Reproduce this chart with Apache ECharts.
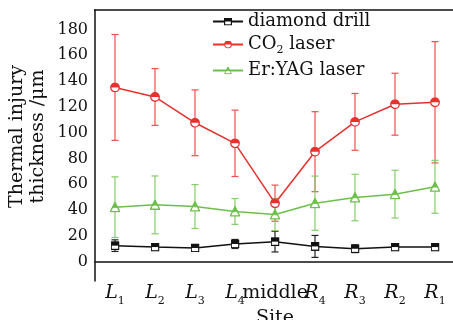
<!DOCTYPE html>
<html>
<head>
<meta charset="utf-8">
<script src="https://cdn.jsdelivr.net/npm/echarts@6/dist/echarts.min.js"></script>
<style>
  html, body { margin: 0; padding: 0; background: #fff; }
  #chart { width: 453px; height: 320px; }
</style>
</head>
<body>
<div id="chart"></div>
<script>
// sites along the bone cut
const sites = ['L1', 'L2', 'L3', 'L4', 'middle', 'R4', 'R3', 'R2', 'R1'];

const drillMean = [12.4, 11.3, 10.6, 13.7, 15.5, 11.8, 10.0, 11.3, 11.3];
const drillErr = [4.5, 2.5, 2.5, 3.5, 8.0, 8.5, 3.0, 2.5, 2.5];

const co2Mean = [135, 127.6, 107.6, 91.7, 45.3, 85.2, 108.3, 122, 123.5];
const co2Err = [41, 22, 25.5, 25.7, 14, 31, 22, 24, 47];

const yagMean = [42.2, 44, 42.7, 38.9, 36.5, 45.3, 49.7, 52.3, 58];
const yagErr = [23.5, 22.4, 17, 10, 12.5, 21, 18, 18.5, 20.5];

const yTicks = [0, 20, 40, 60, 80, 100, 120, 140, 160, 180];

const FONT = 'DejaVu Serif';

// half filled markers (top coloured, bottom white) as small svg images
function svgSymbol(shape, c) {
  let body = '';
  if (shape === 'rect') {
    body = "<rect x='1.5' y='1.5' width='17' height='17' fill='#fff' stroke='" + c + "' stroke-width='3'/>" +
      "<rect x='1.5' y='1.5' width='17' height='8.5' fill='" + c + "'/>";
  } else if (shape === 'circle') {
    body = "<circle cx='10' cy='10' r='8.5' fill='#fff' stroke='" + c + "' stroke-width='2.6'/>" +
      "<path d='M1.5,10 A8.5,8.5 0 0 1 18.5,10 Z' fill='" + c + "'/>";
  } else {
    body = "<polygon points='10,1.5 18.5,18 1.5,18' fill='#fff' stroke='" + c + "' stroke-width='2.4' stroke-linejoin='round'/>" +
      "<polygon points='10,1.5 14.5,10.5 5.5,10.5' fill='" + c + "' stroke='" + c + "' stroke-width='1.5'/>";
  }
  const svg = "<svg xmlns='http://www.w3.org/2000/svg' width='20' height='20' viewBox='0 0 20 20'>" + body + '</svg>';
  return 'image://data:image/svg+xml;charset=utf-8,' + encodeURIComponent(svg);
}

function lineSeries(name, data, color, shape, size) {
  return {
    name: name,
    type: 'line',
    data: data,
    symbol: svgSymbol(shape, color),
    symbolSize: size,
    z: 5,
    color: color,
    lineStyle: { color: color, width: 1.5 },
    itemStyle: { color: color },
  };
}

function errorSeries(mean, err, color) {
  return {
    type: 'custom',
    z: 2,
    silent: true,
    data: mean.map((m, i) => [i, m - err[i], m + err[i]]),
    renderItem(params, api) {
      const lo = api.coord([api.value(0), api.value(1)]);
      const hi = api.coord([api.value(0), api.value(2)]);
      const w = 3.5;
      const style = { stroke: color, lineWidth: 1.2 };
      return {
        type: 'group',
        children: [
          { type: 'line', shape: { x1: lo[0], y1: lo[1], x2: hi[0], y2: hi[1] }, style: style },
          { type: 'line', shape: { x1: lo[0] - w, y1: lo[1], x2: lo[0] + w, y2: lo[1] }, style: style },
          { type: 'line', shape: { x1: hi[0] - w, y1: hi[1], x2: hi[0] + w, y2: hi[1] }, style: style },
        ],
      };
    },
  };
}

const chart = echarts.init(document.getElementById('chart'));

const option = {
  animation: false,
  textStyle: { fontFamily: FONT, color: '#111' },
  grid: { left: 95, right: -2, top: 10, bottom: 39, outerBoundsMode: 'none', containLabel: false },
  legend: {
    orient: 'vertical',
    left: 212,
    top: 12,
    padding: 0,
    itemWidth: 30,
    itemHeight: 10,
    itemGap: 5,
    data: ['diamond drill', 'CO2 laser', 'Er:YAG laser'],
    formatter(name) {
      if (name === 'CO2 laser') return '{a|CO}{s|2}{a| laser}';
      return '{a|' + name + '}';
    },
    textStyle: {
      fontFamily: FONT,
      rich: {
        a: { fontFamily: FONT, fontSize: 18, color: '#111', lineHeight: 19, verticalAlign: 'top' },
        s: { fontFamily: FONT, fontSize: 11, color: '#111', lineHeight: 11, padding: [10, 0, 0, 0], verticalAlign: 'top' },
      },
    },
  },
  xAxis: {
    type: 'category',
    data: sites,
    name: 'Site',
    nameLocation: 'middle',
    nameGap: 28,
    nameMoveOverlap: false,
    nameTextStyle: { fontFamily: FONT, fontSize: 19, color: '#111', verticalAlign: 'top' },
    axisLine: { lineStyle: { color: '#111', width: 1.5 } },
    axisTick: { inside: true, alignWithLabel: true, length: 4, lineStyle: { color: '#111' } },
    axisLabel: {
      margin: 3,
      interval: 0,
      hideOverlap: false,
      formatter(v) {
        if (v === 'middle') return '{m|middle}';
        return '{i|' + v[0] + '}{s|' + v.slice(1) + '}';
      },
      rich: {
        i: { fontFamily: FONT, fontStyle: 'italic', fontSize: 19, color: '#111', lineHeight: 20, verticalAlign: 'top' },
        m: { fontFamily: FONT, fontSize: 19, color: '#111', lineHeight: 20, verticalAlign: 'top' },
        s: { fontFamily: FONT, fontSize: 11, color: '#111', lineHeight: 11, padding: [12, 0, 0, 0], verticalAlign: 'top' },
      },
    },
  },
  yAxis: {
    type: 'value',
    min: -15,
    max: 195,
    name: 'Thermal injury\nthickness /\u03bcm',
    nameLocation: 'middle',
    nameGap: 46,
    nameMoveOverlap: false,
    nameTextStyle: { fontFamily: FONT, fontSize: 19, color: '#111', lineHeight: 21, padding: [0, 0, 0, 18] },
    splitLine: { show: false },
    axisLine: { show: true, lineStyle: { color: '#111', width: 1.5 } },
    axisTick: { inside: true, length: 4, customValues: yTicks, lineStyle: { color: '#111' } },
    axisLabel: { customValues: yTicks, margin: 7, fontFamily: FONT, fontSize: 16, color: '#111' },
  },
  series: [
    errorSeries(drillMean, drillErr, '#222'),
    errorSeries(co2Mean, co2Err, '#f05050'),
    errorSeries(yagMean, yagErr, '#86cc6c'),
    lineSeries('diamond drill', drillMean, '#111', 'rect', 9),
    lineSeries('CO2 laser', co2Mean, '#e8302c', 'circle', 10),
    lineSeries('Er:YAG laser', yagMean, '#6cc04a', 'triangle', 11),
  ],
  // top border line of the frame
  graphic: [{
    type: 'line',
    shape: { x1: 94, y1: 10, x2: 453, y2: 10 },
    style: { stroke: '#111', lineWidth: 1.5 },
  }],
};

chart.setOption(option);
</script>
</body>
</html>
